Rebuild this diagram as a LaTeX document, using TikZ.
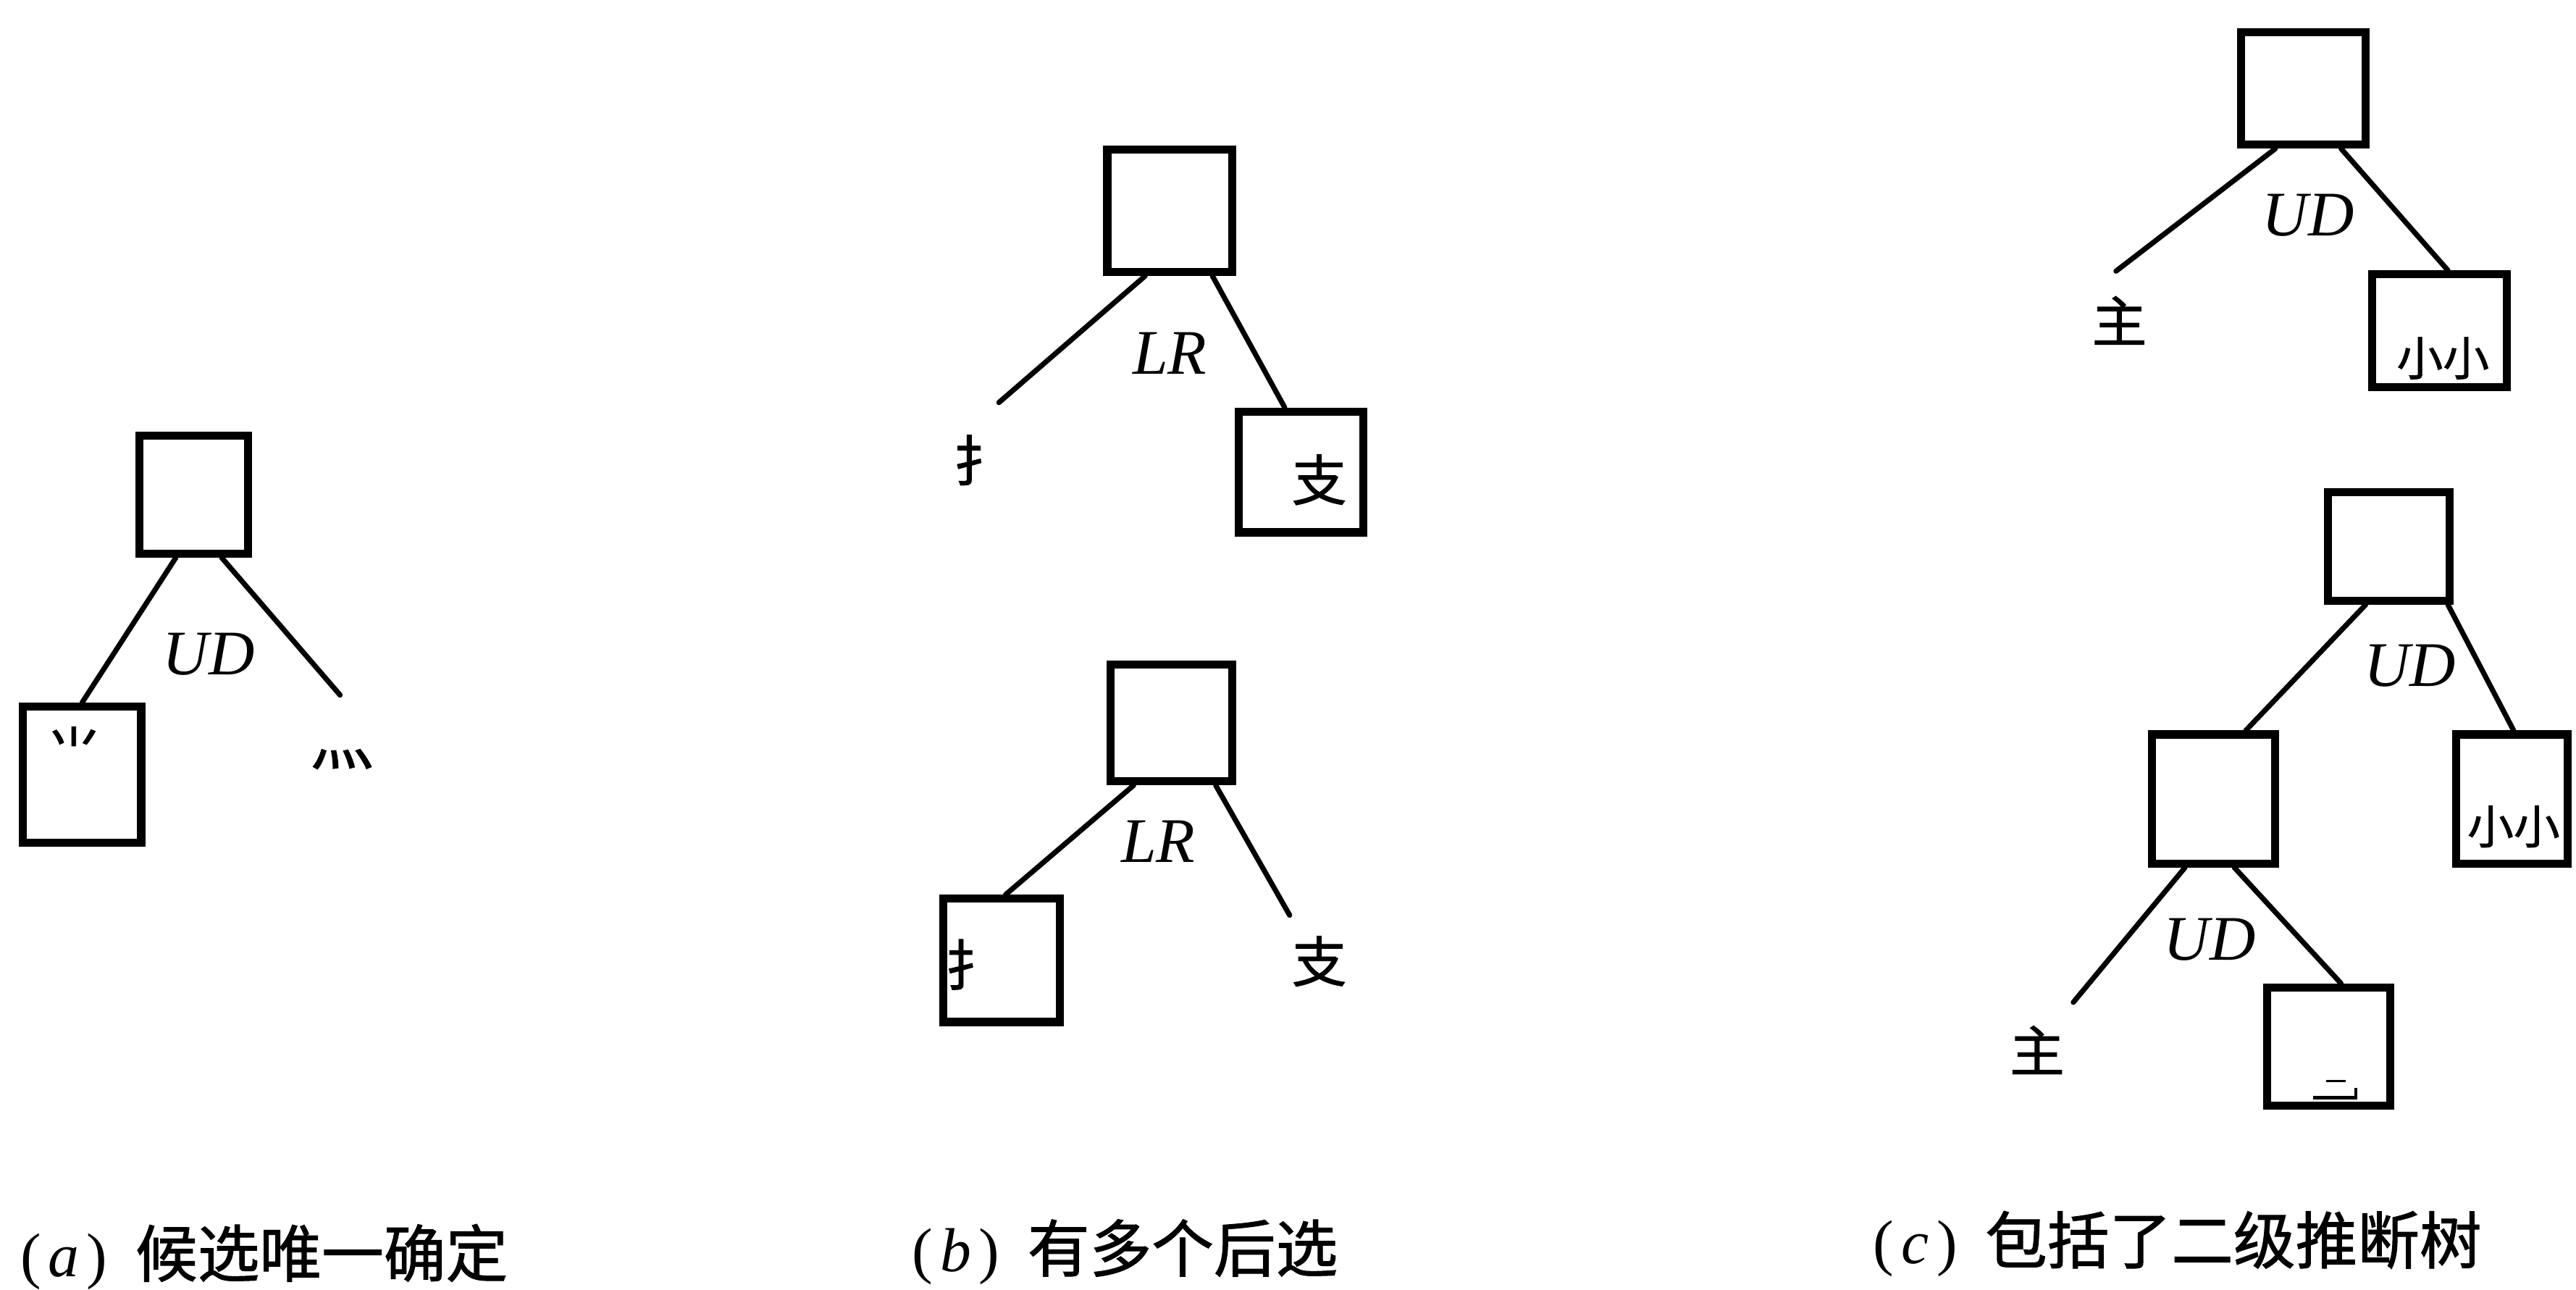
\documentclass[tikz,border=0pt]{standalone}
\usepackage{fontspec}
\setmainfont{Liberation Serif}
\newfontfamily\cjk{Noto Sans CJK SC}[FakeBold=1.2]
\usetikzlibrary{calc}
\tikzset{
  tbox/.style={draw, line width=2.8pt, inner sep=0pt},
  link/.style={line width=1.8pt, line cap=round},
  rel/.style={font=\fontsize{22}{22}\selectfont\itshape, inner sep=0pt},
  hz/.style={font=\fontsize{19}{19}\cjk, inner sep=0pt},
  hzs/.style={font=\fontsize{16}{16}\cjk, inner sep=0pt},
  capt/.style={font=\fontsize{21.5}{22}\selectfont, anchor=west, inner sep=0pt},
}
\begin{document}
\begin{tikzpicture}[x=0.02cm, y=-0.02cm]
\useasboundingbox[fill=white] (0,0) rectangle (1568,785);

% ---------- (a) ----------
\node[tbox, minimum width=1.32cm, minimum height=1.44cm] (A0) at (118,301) {};
\node[tbox, minimum width=1.44cm, minimum height=1.66cm] (A1) at (50,471.5) {};
\coordinate (aR) at (207,423);
\draw[link] ([xshift=-0.22cm]A0.south) -- (A1.north);
\draw[link] ([xshift=0.34cm]A0.south) -- (aR);
\node[rel] (udA) at (127,398) {UD};
\node[hz] (aIn) at (45,456) {⺌};
\node[font=\fontsize{22}{22}\cjk, inner sep=0pt] (aOut) at (208,462) {灬};

% ---------- (b), upper ----------
\node[tbox, minimum width=1.52cm, minimum height=1.49cm] (B0) at (712,128.25) {};
\node[tbox, minimum width=1.52cm, minimum height=1.47cm] (B1) at (792,287.25) {};
\coordinate (bL) at (608,245);
\draw[link] ([xshift=-0.30cm]B0.south) -- (bL);
\draw[link] ([xshift=0.52cm]B0.south) -- ([xshift=-0.20cm]B1.north);
\node[rel] (lrB) at (712,215) {LR};
\node[hz] (bHand) at (597,280) {扌};
\node[hz] (bZhi) at (803,292) {支};

% ---------- (b), lower ----------
\node[tbox, minimum width=1.48cm, minimum height=1.42cm] (B2) at (713,440) {};
\node[tbox, minimum width=1.42cm, minimum height=1.50cm] (B3) at (609.5,584.5) {};
\coordinate (bR) at (785,557);
\draw[link] ([xshift=-0.46cm]B2.south) -- ([xshift=0.05cm]B3.north);
\draw[link] ([xshift=0.54cm]B2.south) -- (bR);
\node[rel] (lrB2) at (705,512) {LR};
\node[hz] (bHand2) at (592,587) {扌};
\node[hz] (bZhi2) at (803,585) {支};

% ---------- (c), upper ----------
\node[tbox, minimum width=1.52cm, minimum height=1.37cm] (C0) at (1402,53.75) {};
\node[tbox, minimum width=1.64cm, minimum height=1.37cm] (C1) at (1485,201.25) {};
\coordinate (cL) at (1288,165);
\draw[link] ([xshift=-0.34cm]C0.south) -- (cL);
\draw[link] ([xshift=0.46cm]C0.south) -- ([xshift=0.10cm]C1.north);
\node[rel] (udC) at (1405,131) {UD};
\node[hz] (cZhu) at (1290,195) {主};
\node[hzs] (cXiao) at (1487,218) {小小};

% ---------- (c), lower: two-level tree ----------
\node[tbox, minimum width=1.48cm, minimum height=1.32cm] (C2) at (1454,332.5) {};
\node[tbox, minimum width=1.50cm, minimum height=1.57cm] (C3) at (1347.5,486.25) {};
\node[tbox, minimum width=1.36cm, minimum height=1.57cm] (C4) at (1529,486.25) {};
\node[tbox, minimum width=1.50cm, minimum height=1.44cm] (C5) at (1417.5,637) {};
\coordinate (cL2) at (1262,610);
\draw[link] ([xshift=-0.28cm]C2.south) -- ([xshift=0.39cm]C3.north);
\draw[link] ([xshift=0.72cm]C2.south) -- ([xshift=0.02cm]C4.north);
\draw[link] ([xshift=-0.35cm]C3.south) -- (cL2);
\draw[link] ([xshift=0.25cm]C3.south) -- ([xshift=0.15cm]C5.north);
\node[rel] (udC2) at (1467,405) {UD};
\node[rel] (udC3) at (1345,572) {UD};
\node[hzs] (cXiao2) at (1530,503) {小小};
\node[hz] (cZhu2) at (1240,639) {主};
% faint stroke left inside the lowest box
\draw[line width=0.9pt] (1416,658) -- (1428,658);
\draw[line width=1.1pt] (1408,668) -- (1434,668) -- (1434,662);

% ---------- captions ----------
\node[capt] (capA) at (12,765) {(\hspace{0.12em}\textit{a}\hspace{0.12em})\hspace{0.45em}{\cjk 候选唯一确定}};
\node[capt] (capB) at (555,762) {(\hspace{0.12em}\textit{b}\hspace{0.12em})\hspace{0.45em}{\cjk 有多个后选}};
\node[capt] (capC) at (1140,757) {(\hspace{0.12em}\textit{c}\hspace{0.12em})\hspace{0.45em}{\cjk 包括了二级推断树}};
\end{tikzpicture}
\end{document}
